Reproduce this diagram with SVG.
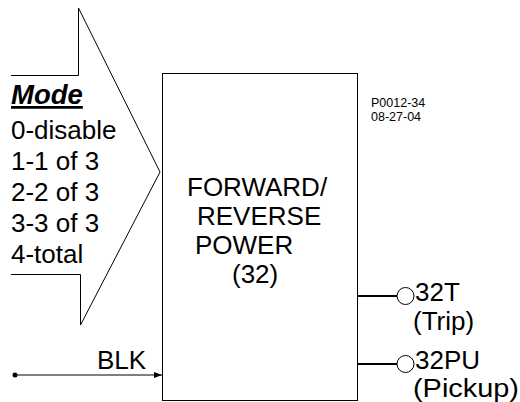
<svg xmlns="http://www.w3.org/2000/svg" width="520" height="402" viewBox="0 0 520 402">
<style>
text{font-family:"Liberation Sans",Arial,sans-serif;fill:#000}
.big{font-size:26px}
.small{font-size:12.5px}
.ln{stroke:#000;stroke-width:1;fill:none}
.thick{stroke:#000;stroke-width:2;fill:none}
</style>
<defs>
<marker id="arr" markerWidth="8" markerHeight="6" refX="8" refY="3" orient="auto" markerUnits="userSpaceOnUse">
<path d="M0,0 L8,3 L0,6 Z" fill="#000"/>
</marker>
</defs>
<g id="mode-arrow">
<path class="ln" d="M11,75.5 H78.5 V8 L160,172 L80.5,325 V274.5 H11"/>
<text x="11" y="104" font-size="27.5" font-weight="bold" font-style="italic" text-decoration="underline">Mode</text>
<text x="11" y="139" class="big">0-disable</text>
<text x="11" y="170" class="big">1-1 of 3</text>
<text x="11" y="201" class="big">2-2 of 3</text>
<text x="11" y="232" class="big">3-3 of 3</text>
<text x="11" y="263" class="big">4-total</text>
</g>
<g id="block">
<rect class="ln" x="162.5" y="73.5" width="195" height="327"/>
<text x="187" y="196" class="big">FORWARD/</text>
<text x="197" y="225" class="big">REVERSE</text>
<text x="195" y="254" class="big">POWER</text>
<text x="232" y="283" class="big">(32)</text>
</g>
<g id="label">
<text x="371" y="107" class="small">P0012-34</text>
<text x="371" y="121" class="small">08-27-04</text>
</g>
<g id="out-trip">
<circle class="ln" cx="405.5" cy="296" r="8.5"/>
<text x="415" y="301" class="big">32T</text>
<text x="413" y="330" class="big">(Trip)</text>
</g>
<g id="out-pickup">
<circle class="ln" cx="405.5" cy="364" r="8.5"/>
<text x="415" y="369" class="big">32PU</text>
<text x="413" y="397" class="big" textLength="106" lengthAdjust="spacingAndGlyphs">(Pickup)</text>
</g>
<g id="blk-input">
<circle cx="15" cy="375" r="2.5" fill="#000"/>
<text x="97" y="369" class="big">BLK</text>
</g>
<g id="connectors">
<line class="thick" x1="357" y1="296" x2="397" y2="296"/>
<line class="thick" x1="357" y1="364" x2="397" y2="364"/>
<line class="ln" x1="15" y1="375" x2="162" y2="375" marker-end="url(#arr)"/>
</g>
</svg>
